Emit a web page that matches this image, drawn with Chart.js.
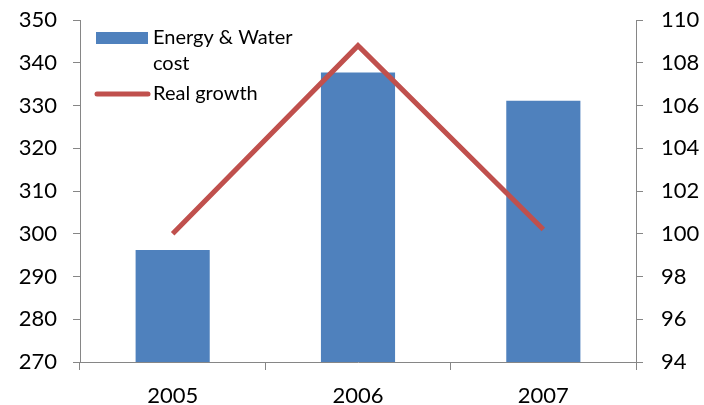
<!DOCTYPE html>
<html>
<head>
<meta charset="utf-8">
<script src="https://cdn.jsdelivr.net/npm/chart.js@4/dist/chart.umd.min.js"></script>
<style>
  html, body { margin: 0; padding: 0; background: #fff; }
  #wrap { width: 704px; height: 405px; }
</style>
</head>
<body>
<div id="wrap"><canvas id="costChart" width="704" height="405"></canvas></div>
<script>
const years = ['2005', '2006', '2007'];
const energyWaterCost = [296.2, 337.7, 331.1];
const realGrowth = [100.0, 108.8, 100.2];
const costTicks = [270, 280, 290, 300, 310, 320, 330, 340, 350];
const growthTicks = [94, 96, 98, 100, 102, 104, 106, 108, 110];

const FONT = 'Lato, "Open Sans", sans-serif';
const AXIS_GREY = '#868686';

// legend drawn inside the plot, top-left, with a two-line first entry
const innerLegend = {
    id: 'innerLegend',
    afterDraw(chart) {
        const c = chart.ctx;
        c.save();
        c.font = '20px ' + FONT;
        c.textBaseline = 'middle';
        c.textAlign = 'left';
        c.fillStyle = '#4F81BD';
        c.fillRect(96, 32, 52, 12);
        c.fillStyle = '#000';
        c.fillText('Energy & Water', 153, 38);
        c.fillText('cost', 153, 64);
        c.strokeStyle = '#C0504D';
        c.lineWidth = 5;
        c.lineCap = 'round';
        c.beginPath();
        c.moveTo(97, 94);
        c.lineTo(148, 94);
        c.stroke();
        c.fillText('Real growth', 153, 94);
        c.restore();
    }
};

// fixed axis sizes so the plot area sits at 80..636 x 20..362
function fitY(width) {
    return (s) => {
        s.width = width;
        s.paddingTop = 0;
        s.paddingBottom = 0;
    };
}

new Chart(document.getElementById('costChart'), {
    data: {
        labels: years,
        datasets: [
            {
                type: 'line',
                label: 'Real growth',
                data: realGrowth,
                yAxisID: 'yRight',
                borderColor: '#C0504D',
                borderWidth: 5,
                pointRadius: 0,
                tension: 0,
                order: 0
            },
            {
                type: 'bar',
                label: 'Energy & Water cost',
                data: energyWaterCost,
                yAxisID: 'yLeft',
                backgroundColor: '#4F81BD',
                categoryPercentage: 1,
                barPercentage: 0.4,
                order: 1
            }
        ]
    },
    options: {
        responsive: false,
        animation: false,
        layout: { padding: { top: 20, left: 0, right: 0, bottom: 0 } },
        plugins: { legend: { display: false }, tooltip: { enabled: false } },
        scales: {
            x: {
                offset: true,
                grid: { display: true, drawOnChartArea: false, offset: true, tickLength: 8, color: AXIS_GREY },
                border: { color: AXIS_GREY, width: 1 },
                ticks: { font: { family: FONT, size: 22 }, color: '#000', padding: 13 },
                afterFit(s) { s.height = 43; s.paddingLeft = 0; s.paddingRight = 0; }
            },
            yLeft: {
                position: 'left',
                min: 270,
                max: 350,
                afterBuildTicks(s) { s.ticks = costTicks.map(v => ({ value: v })); },
                grid: { display: true, drawOnChartArea: false, tickLength: 7, color: AXIS_GREY },
                border: { color: AXIS_GREY, width: 1 },
                ticks: { font: { family: FONT, size: 22 }, color: '#000', padding: 16 },
                afterFit: fitY(80)
            },
            yRight: {
                position: 'right',
                min: 94,
                max: 110,
                afterBuildTicks(s) { s.ticks = growthTicks.map(v => ({ value: v })); },
                grid: { display: true, drawOnChartArea: false, tickLength: 7, color: AXIS_GREY },
                border: { color: AXIS_GREY, width: 1 },
                ticks: { font: { family: FONT, size: 22 }, color: '#000', padding: 18 },
                afterFit: fitY(68)
            }
        }
    },
    plugins: [innerLegend]
});
</script>
</body>
</html>
